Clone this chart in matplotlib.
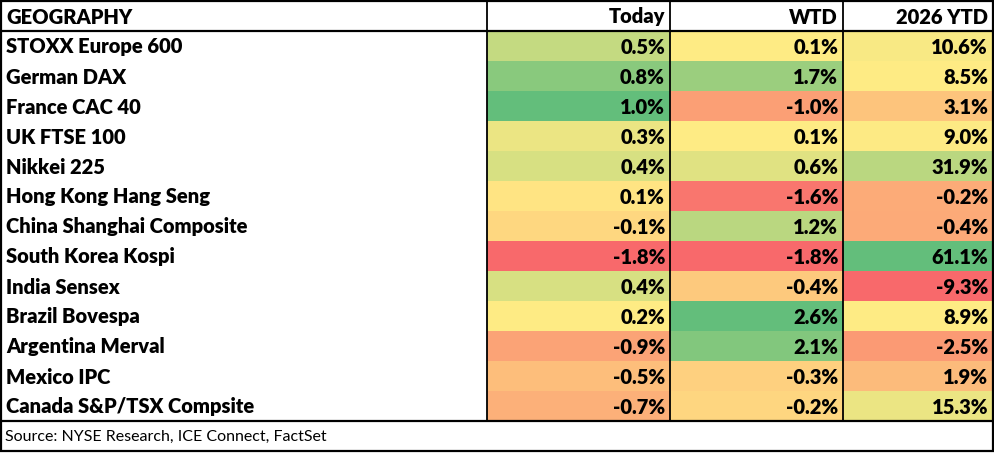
import matplotlib.pyplot as plt
import numpy as np
from matplotlib.colors import LinearSegmentedColormap, TwoSlopeNorm
from matplotlib.patches import Rectangle

geography = [
    "STOXX Europe 600", "German DAX", "France CAC 40", "UK FTSE 100",
    "Nikkei 225", "Hong Kong Hang Seng", "China Shanghai Composite",
    "South Korea Kospi", "India Sensex", "Brazil Bovespa",
    "Argentina Merval", "Mexico IPC", "Canada S&P/TSX Compsite",
]
today = [0.5, 0.8, 1.0, 0.3, 0.4, 0.1, -0.1, -1.8, 0.4, 0.2, -0.9, -0.5, -0.7]
wtd = [0.1, 1.7, -1.0, 0.1, 0.6, -1.6, 1.2, -1.8, -0.4, 2.6, 2.1, -0.3, -0.2]
ytd = [10.6, 8.5, 3.1, 9.0, 31.9, -0.2, -0.4, 61.1, -9.3, 8.9, -2.5, 1.9, 15.3]
headers = ["GEOGRAPHY", "Today", "WTD", "2026 YTD"]
source = "Source: NYSE Research, ICE Connect, FactSet"

# excel style red - yellow - green scale
cmap = LinearSegmentedColormap.from_list("ryg", ["#F8696B", "#FFEB84", "#63BE7B"])

W, H = 995, 454
fig = plt.figure(figsize=(W / 100, H / 100), dpi=100)
ax = fig.add_axes([0, 0, 1, 1])
ax.set_xlim(0, W)
ax.set_ylim(H, 0)
ax.axis("off")

col_edges = [1, 487, 670, 843, 993]
top, head_h, row_h, src_h = 1, 30, 30, 30
body_top = top + head_h
body_bot = body_top + row_h * len(geography)
bottom = body_bot + src_h

font = "Lato"
fs = 14.5
fw = "heavy"

# header
for j, h in enumerate(headers):
    if j == 0:
        ax.text(col_edges[0] + 5, top + head_h / 2 + 1, h, ha="left", va="center",
                fontsize=fs, fontweight=fw, family=font)
    else:
        ax.text(col_edges[j + 1] - 5, top + head_h / 2 + 1, h, ha="right", va="center",
                fontsize=fs, fontweight=fw, family=font)

# body
for j, vals in enumerate([today, wtd, ytd]):
    arr = np.array(vals)
    norm = TwoSlopeNorm(vmin=arr.min(), vcenter=np.median(arr), vmax=arr.max())
    x0, x1 = col_edges[j + 1], col_edges[j + 2]
    for i, v in enumerate(vals):
        y0 = body_top + i * row_h
        ax.add_patch(Rectangle((x0, y0), x1 - x0, row_h, facecolor=cmap(norm(v)),
                               edgecolor="none", zorder=1))
        ax.text(x1 - 5, y0 + row_h / 2 + 1, f"{v:.1f}%", ha="right", va="center",
                fontsize=fs, fontweight=fw, family=font, zorder=3)

for i, name in enumerate(geography):
    ax.text(col_edges[0] + 5, body_top + i * row_h + row_h / 2 + 1, name,
            ha="left", va="center", fontsize=fs, fontweight=fw, family=font)

ax.text(col_edges[0] + 4, body_bot + src_h / 2 + 1, source, ha="left", va="center",
        fontsize=11.5, family=font)

# grid lines
lw = 1.6
for x in col_edges[1:-1]:
    ax.plot([x, x], [top, body_bot], color="black", lw=1.3, zorder=4)
ax.plot([col_edges[0], col_edges[-1]], [body_top, body_top], color="black", lw=lw, zorder=4)
ax.plot([col_edges[0], col_edges[-1]], [body_bot, body_bot], color="black", lw=lw, zorder=4)
ax.add_patch(Rectangle((col_edges[0], top), col_edges[-1] - col_edges[0], bottom - top,
                       facecolor="none", edgecolor="black", lw=lw, zorder=5))

fig.savefig("out.png", dpi=100)
